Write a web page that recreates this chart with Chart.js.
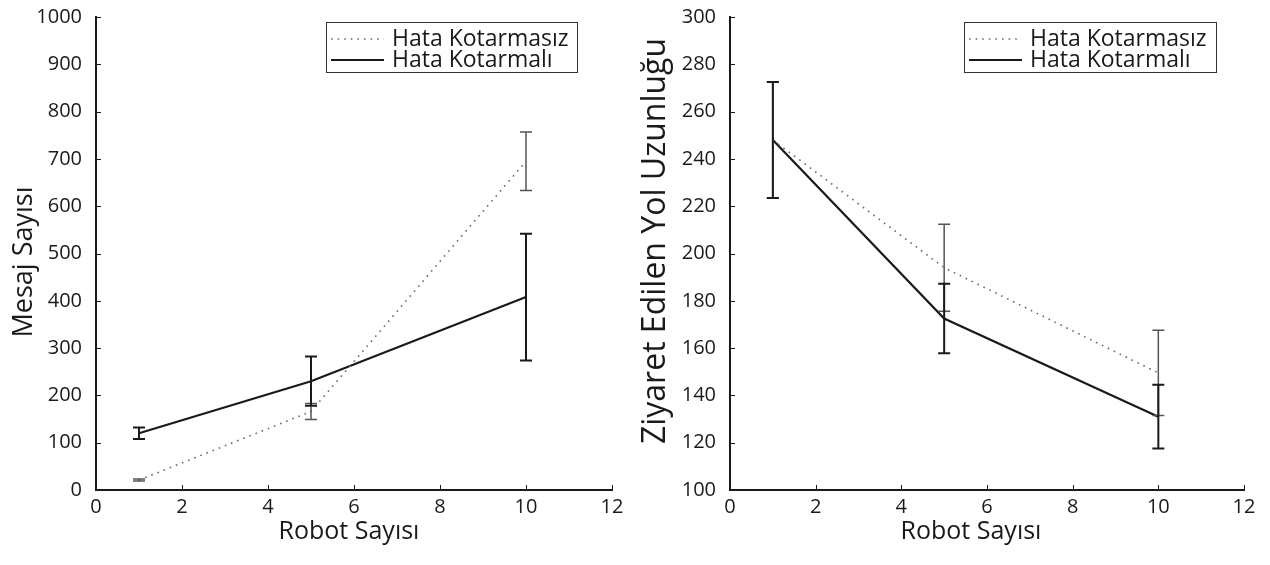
<!DOCTYPE html>
<html>
<head>
<meta charset="utf-8">
<script src="https://cdn.jsdelivr.net/npm/chart.js@4.4.1/dist/chart.umd.min.js"></script>
<style>
  html, body { margin: 0; padding: 0; background: #fff; }
  #wrap { display: flex; width: 1270px; height: 565px; }
  canvas { display: block; }
</style>
</head>
<body>
<div id="wrap">
  <canvas id="c1" width="635" height="565"></canvas>
  <canvas id="c2" width="635" height="565"></canvas>
</div>
<script>
// ---- data ----
const robots = [1, 5, 10];
const xTicks = [0, 2, 4, 6, 8, 10, 12];

const seriesLabels = ['Hata Kotarmasız', 'Hata Kotarmalı'];
const xTitle = 'Robot Sayısı';

// Left chart: Mesaj Sayısı
const mesajNoCorr = [21, 166, 695];
const mesajNoCorrErr = [2, 17, 62];
const mesajCorr = [120, 230, 408];
const mesajCorrErr = [12, 52, 134];
const mesajTicks = [0, 100, 200, 300, 400, 500, 600, 700, 800, 900, 1000];

// Right chart: Ziyaret Edilen Yol Uzunluğu
const yolNoCorr = [248, 194, 149.5];
const yolNoCorrErr = [24.5, 18.4, 18];
const yolCorr = [248, 172.5, 131];
const yolCorrErr = [24.5, 14.7, 13.5];
const yolTicks = [100, 120, 140, 160, 180, 200, 220, 240, 260, 280, 300];

const FONT = "'Open Sans', 'Noto Sans', sans-serif";
const INK = '#1a1a1a';
const DOT = '#6a6a6a';

function pts(xs, ys) { return xs.map((x, i) => ({ x: x, y: ys[i] })); }

const errorBarPlugin = {
  id: 'errorBars',
  afterDatasetsDraw(chart) {
    const ctx = chart.ctx;
    const xs = chart.scales.x, ys = chart.scales.y;
    chart.data.datasets.forEach(ds => {
      if (!ds.errors) return;
      ctx.save();
      ctx.strokeStyle = ds.errColor;
      ctx.lineWidth = ds.errWidth;
      ctx.setLineDash([]);
      ds.data.forEach((p, i) => {
        const e = ds.errors[i];
        const px = xs.getPixelForValue(p.x);
        const y1 = ys.getPixelForValue(p.y + e);
        const y2 = ys.getPixelForValue(p.y - e);
        ctx.beginPath();
        ctx.moveTo(px, y1); ctx.lineTo(px, y2);
        ctx.moveTo(px - 6, y1); ctx.lineTo(px + 6, y1);
        ctx.moveTo(px - 6, y2); ctx.lineTo(px + 6, y2);
        ctx.stroke();
      });
      ctx.restore();
    });
  }
};

const innerTicksPlugin = {
  id: 'innerTicks',
  afterDraw(chart) {
    const ctx = chart.ctx;
    const xs = chart.scales.x, ys = chart.scales.y;
    const a = chart.chartArea;
    ctx.save();
    ctx.strokeStyle = INK;
    ctx.lineWidth = 1;
    xs.ticks.forEach(t => {
      const px = Math.round(xs.getPixelForValue(t.value)) + 0.5;
      ctx.beginPath(); ctx.moveTo(px, a.bottom); ctx.lineTo(px, a.bottom - 5); ctx.stroke();
    });
    ys.ticks.forEach(t => {
      const py = Math.round(ys.getPixelForValue(t.value)) + 0.5;
      ctx.beginPath(); ctx.moveTo(a.left, py); ctx.lineTo(a.left + 5, py); ctx.stroke();
    });
    ctx.restore();
  }
};

// axis titles drawn as canvas text at set spots
const axisTitlePlugin = {
  id: 'axisTitles',
  afterDraw(chart, args, o) {
    const ctx = chart.ctx;
    ctx.save();
    ctx.fillStyle = INK;
    ctx.textAlign = 'center';
    ctx.textBaseline = 'middle';
    ctx.font = o.xSize + 'px ' + FONT;
    ctx.fillText(o.xText, o.xPos[0], o.xPos[1]);
    ctx.translate(o.yPos[0], o.yPos[1]);
    ctx.rotate(-Math.PI / 2);
    ctx.font = o.ySize + 'px ' + FONT;
    ctx.fillText(o.yText, 0, 0);
    ctx.restore();
  }
};

const boxLegendPlugin = {
  id: 'boxLegend',
  afterDraw(chart, args, opts) {
    const ctx = chart.ctx;
    const b = opts.box;
    ctx.save();
    ctx.fillStyle = '#fff';
    ctx.fillRect(b.x, b.y, b.w, b.h);
    ctx.strokeStyle = '#333';
    ctx.lineWidth = 1;
    ctx.strokeRect(b.x + 0.5, b.y + 0.5, b.w, b.h);
    ctx.font = '23px ' + FONT;
    ctx.textBaseline = 'middle';
    chart.data.datasets.forEach((ds, i) => {
      const y = b.y + 17 + i * 21;
      ctx.beginPath();
      ctx.strokeStyle = ds.borderColor;
      ctx.lineWidth = ds.borderWidth;
      ctx.setLineDash(ds.borderDash || []);
      ctx.moveTo(b.x + 5, y); ctx.lineTo(b.x + 58, y);
      ctx.stroke();
      ctx.setLineDash([]);
      ctx.fillStyle = INK;
      ctx.fillText(ds.label, b.x + 66, y);
    });
    ctx.restore();
  }
};

function makeChart(id, noCorr, noCorrErr, corr, corrErr, yTicks, titles, yWidth, rightPad, box) {
  return new Chart(document.getElementById(id), {
    type: 'line',
    data: {
      datasets: [
        {
          label: seriesLabels[0],
          data: pts(robots, noCorr),
          errors: noCorrErr,
          errColor: '#555',
          errWidth: 1.5,
          borderColor: DOT,
          borderWidth: 1.6,
          borderDash: [1.6, 5],
          pointRadius: 0,
          tension: 0,
          fill: false
        },
        {
          label: seriesLabels[1],
          data: pts(robots, corr),
          errors: corrErr,
          errColor: INK,
          errWidth: 2,
          borderColor: INK,
          borderWidth: 2.2,
          pointRadius: 0,
          tension: 0,
          fill: false
        }
      ]
    },
    options: {
      responsive: false,
      animation: false,
      devicePixelRatio: 1,
      layout: { padding: { top: 17, right: rightPad, left: 0, bottom: 0 } },
      plugins: {
        legend: { display: false },
        tooltip: { enabled: false },
        boxLegend: { box: box },
        axisTitles: titles
      },
      scales: {
        x: {
          type: 'linear',
          min: xTicks[0],
          max: xTicks[xTicks.length - 1],
          afterBuildTicks: s => { s.ticks = xTicks.map(v => ({ value: v })); },
          afterFit: s => { s.height = 75; s.paddingLeft = 0; s.paddingRight = 0; },
          grid: { display: false, drawTicks: false },
          border: { display: true, color: INK, width: 2 },
          ticks: { color: INK, font: { family: FONT, size: 20 }, padding: 5, maxRotation: 0,
                   callback: v => String(v) }
        },
        y: {
          type: 'linear',
          min: yTicks[0],
          max: yTicks[yTicks.length - 1],
          afterBuildTicks: s => { s.ticks = yTicks.map(v => ({ value: v })); },
          afterFit: s => { s.width = yWidth; s.paddingTop = 0; s.paddingBottom = 0; },
          grid: { display: false, drawTicks: false },
          border: { display: true, color: INK, width: 2 },
          ticks: { color: INK, font: { family: FONT, size: 20 }, padding: 14,
                   callback: v => String(v) }
        }
      }
    },
    plugins: [errorBarPlugin, innerTicksPlugin, axisTitlePlugin, boxLegendPlugin]
  });
}

makeChart('c1', mesajNoCorr, mesajNoCorrErr, mesajCorr, mesajCorrErr, mesajTicks,
  { xText: xTitle, xSize: 25, xPos: [349, 532], yText: 'Mesaj Sayısı', ySize: 27, yPos: [24, 262] },
  96, 23, { x: 326, y: 22, w: 251, h: 50 });
makeChart('c2', yolNoCorr, yolNoCorrErr, yolCorr, yolCorrErr, yolTicks,
  { xText: xTitle, xSize: 25, xPos: [336, 532], yText: 'Ziyaret Edilen Yol Uzunluğu', ySize: 32, yPos: [21, 241] },
  95, 26, { x: 329, y: 22, w: 252, h: 50 });
</script>
</body>
</html>
